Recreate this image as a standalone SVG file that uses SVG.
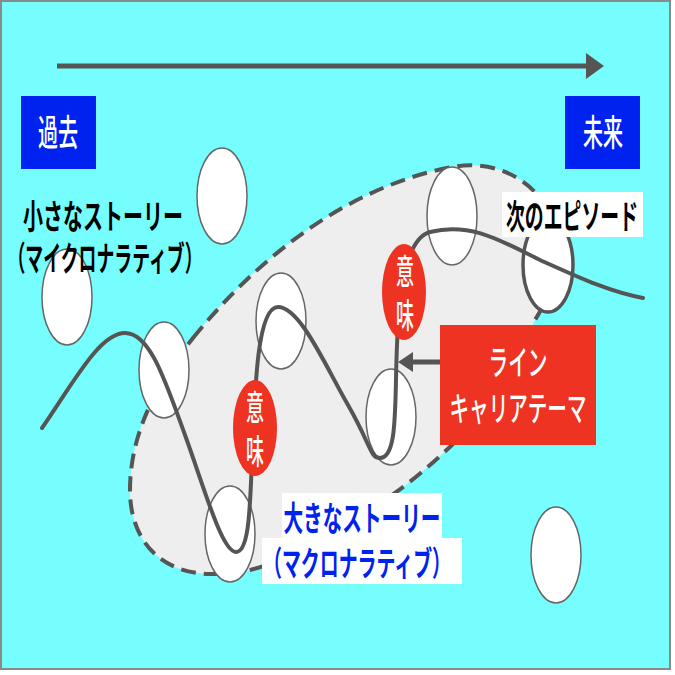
<svg xmlns="http://www.w3.org/2000/svg" width="675" height="675" viewBox="0 0 675 675">
<defs>
<style>
.bg{fill:#76FEFE;stroke:#8a8a8a;stroke-width:2}
.blob{fill:#EEEEEE;stroke:#555;stroke-width:4;stroke-dasharray:15 8}
.ep{fill:#fff;stroke:#666;stroke-width:1.5}
.epb{fill:#fff;stroke:#555;stroke-width:3.5}
.curve{fill:none;stroke:#555;stroke-width:4;stroke-linecap:round}
.arrow{fill:none;stroke:#555;stroke-width:5}
.head{fill:#555}
.blue{fill:#0022EE}
.red{fill:#EE3322}
.wbox{fill:#fff}
text{font-family:"Noto Sans CJK JP","Noto Sans",sans-serif;text-anchor:middle}
.tw{fill:#fff;font-size:36px;font-weight:500}
.tk{fill:#000;font-size:34px;font-weight:700}
.tb{fill:#0022EE;font-size:34px;font-weight:700}
.tm{fill:#fff;font-size:34px;font-weight:500}
</style>
</defs>
<rect class="bg" x="1" y="1" width="669" height="668"/>
<g id="macro-area">
<path class="blob" d="M193,338 C240,280 330,190 452,167 C500,158 545,185 555,230 C562,265 548,300 535,320 C510,370 480,415 452,445 C420,475 390,500 350,520 C310,545 270,575 210,574 C160,573 130,540 130,490 C130,430 160,380 193,338 Z"/>
</g>
<g id="episodes">
<ellipse id="ep1" class="ep" cx="222" cy="196" rx="25" ry="48"/>
<ellipse id="ep2" class="ep" cx="67" cy="297" rx="25" ry="48"/>
<ellipse id="ep3" class="ep" cx="164" cy="370" rx="25" ry="48"/>
<ellipse id="ep4" class="ep" cx="281" cy="321" rx="25" ry="48"/>
<ellipse id="ep5" class="ep" cx="230" cy="534" rx="25" ry="48"/>
<ellipse id="ep6" class="ep" cx="391" cy="417" rx="25" ry="48"/>
<ellipse id="ep7" class="ep" cx="452" cy="216" rx="25" ry="49"/>
<ellipse id="ep8" class="epb" cx="548" cy="265" rx="25" ry="47"/>
<ellipse id="ep9" class="ep" cx="556" cy="555" rx="25" ry="48"/>
</g>
<g id="connectors">
<path id="career-line" class="curve" d="M42,428 C75,380 100,333 125,333 C150,333 165,380 185,435 S222,552 236,552 C250,552 250,500 252,460 C255,380 258,307 278,307 C300,307 325,365 348,405 S370,458 380,458 C395,458 395,420 396,380 C397,320 400,240 430,232 C470,222 500,240 540,260 C580,278 610,292 643,298"/>
<line class="arrow" x1="57" y1="66" x2="590" y2="66"/>
<polygon class="head" points="586,53 604,66 586,79"/>
<line class="arrow" x1="441" y1="362" x2="410" y2="362"/>
<polygon class="head" points="413,352 398,362 413,372"/>
</g>
<g id="meaning1">
<ellipse class="red" cx="255" cy="428" rx="22" ry="48"/>
<text class="tm" x="255" y="420" textLength="18" lengthAdjust="spacingAndGlyphs">意</text>
<text class="tm" x="255" y="464" textLength="18" lengthAdjust="spacingAndGlyphs">味</text>
</g>
<g id="meaning2">
<ellipse class="red" cx="404" cy="292" rx="22" ry="48"/>
<text class="tm" x="405" y="284" textLength="18" lengthAdjust="spacingAndGlyphs">意</text>
<text class="tm" x="405" y="328" textLength="18" lengthAdjust="spacingAndGlyphs">味</text>
</g>
<g id="past">
<rect class="blue" x="21" y="96" width="75" height="73"/>
<text class="tw" x="58" y="146" textLength="40" lengthAdjust="spacingAndGlyphs">過去</text>
</g>
<g id="future">
<rect class="blue" x="565" y="96" width="75" height="73"/>
<text class="tw" x="603" y="146" textLength="40" lengthAdjust="spacingAndGlyphs">未来</text>
</g>
<g id="micro-label">
<text class="tk" x="103" y="229" textLength="160" lengthAdjust="spacingAndGlyphs">小さなストーリー</text>
<text class="tk" x="105" y="271" textLength="195" lengthAdjust="spacingAndGlyphs">（マイクロナラティブ）</text>
</g>
<g id="next-episode">
<rect class="wbox" x="502" y="192" width="141" height="45"/>
<text class="tk" x="572" y="229" textLength="132" lengthAdjust="spacingAndGlyphs">次のエピソード</text>
</g>
<g id="line-theme">
<rect class="red" x="440" y="325" width="156" height="120"/>
<text class="tm" x="518" y="375" textLength="59" lengthAdjust="spacingAndGlyphs">ライン</text>
<text class="tm" x="518" y="421" textLength="137" lengthAdjust="spacingAndGlyphs">キャリアテーマ</text>
</g>
<g id="macro-label">
<rect class="wbox" x="282" y="493" width="160" height="45"/>
<rect class="wbox" x="262" y="538" width="200" height="46"/>
<text class="tb" x="362" y="531" textLength="157" lengthAdjust="spacingAndGlyphs">大きなストーリー</text>
<text class="tb" x="357" y="576" textLength="188" lengthAdjust="spacingAndGlyphs">（マクロナラティブ）</text>
</g>
</svg>
